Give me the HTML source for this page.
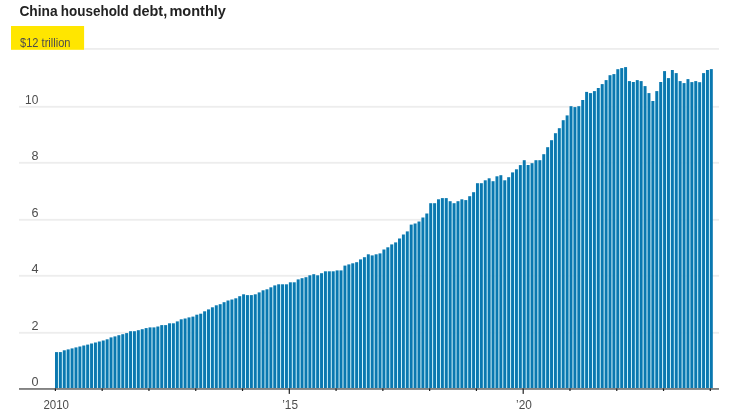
<!DOCTYPE html>
<html><head><meta charset="utf-8"><title>China household debt, monthly</title>
<style>
html,body{margin:0;padding:0;background:#fff;}
body{width:731px;height:409px;overflow:hidden;}
svg{display:block;font-family:"Liberation Sans",sans-serif;}
.t{font-weight:bold;font-size:15px;fill:#222;}
.l text{font-size:12.6px;fill:#4d4d4d;}
</style></head><body>
<svg width="731" height="409" viewBox="0 0 731 409">
<rect width="731" height="409" fill="#fff"/>
<text class="t" y="15.9"><tspan x="19.4" textLength="38.2" lengthAdjust="spacingAndGlyphs">China</tspan> <tspan x="60.8" textLength="68" lengthAdjust="spacingAndGlyphs">household</tspan> <tspan x="132.7" textLength="34.5" lengthAdjust="spacingAndGlyphs">debt,</tspan> <tspan x="169.4" textLength="56.5" lengthAdjust="spacingAndGlyphs">monthly</tspan></text>
<rect x="11" y="26" width="73.1" height="23.8" fill="#ffe600"/>
<g><rect x="84" y="48.0" width="635" height="1.8" fill="#ededed"/><rect x="19" y="105.9" width="700" height="1.8" fill="#ededed"/><rect x="19" y="161.9" width="700" height="1.8" fill="#ededed"/><rect x="19" y="218.9" width="700" height="1.8" fill="#ededed"/><rect x="19" y="274.9" width="700" height="1.8" fill="#ededed"/><rect x="19" y="331.9" width="700" height="1.8" fill="#ededed"/></g>
<g class="l">
<text x="20" y="46.6" textLength="50.5" lengthAdjust="spacingAndGlyphs">$12 trillion</text>
<text x="38.4" y="103.85" text-anchor="end" textLength="13.3" lengthAdjust="spacingAndGlyphs">10</text><text x="38.4" y="159.85" text-anchor="end">8</text><text x="38.4" y="216.85" text-anchor="end">6</text><text x="38.4" y="272.85" text-anchor="end">4</text><text x="38.4" y="329.85" text-anchor="end">2</text><text x="38.4" y="385.85" text-anchor="end">0</text>
<text x="56.2" y="409" text-anchor="middle" textLength="25.6" lengthAdjust="spacingAndGlyphs">2010</text><text x="290.1" y="409" text-anchor="middle" textLength="15.8" lengthAdjust="spacingAndGlyphs">’15</text><text x="524.0" y="409" text-anchor="middle" textLength="15.8" lengthAdjust="spacingAndGlyphs">’20</text>
</g>
<g fill="#dcfbff"><rect x="57.65" y="352.1" width="1.55" height="35.9"/><rect x="61.55" y="352.1" width="1.55" height="35.9"/><rect x="65.45" y="350.3" width="1.55" height="37.7"/><rect x="69.34" y="349.4" width="1.55" height="38.6"/><rect x="73.24" y="348.4" width="1.55" height="39.6"/><rect x="77.14" y="347.4" width="1.55" height="40.6"/><rect x="81.04" y="346.5" width="1.55" height="41.5"/><rect x="84.94" y="345.5" width="1.55" height="42.5"/><rect x="88.83" y="344.6" width="1.55" height="43.4"/><rect x="92.73" y="343.5" width="1.55" height="44.5"/><rect x="96.63" y="342.5" width="1.55" height="45.5"/><rect x="100.53" y="341.5" width="1.55" height="46.5"/><rect x="104.43" y="340.5" width="1.55" height="47.5"/><rect x="108.32" y="339.3" width="1.55" height="48.7"/><rect x="112.22" y="337.4" width="1.55" height="50.6"/><rect x="116.12" y="336.4" width="1.55" height="51.6"/><rect x="120.02" y="335.2" width="1.55" height="52.8"/><rect x="123.92" y="334.2" width="1.55" height="53.8"/><rect x="127.81" y="333.1" width="1.55" height="54.9"/><rect x="131.71" y="331.2" width="1.55" height="56.8"/><rect x="135.61" y="331.2" width="1.55" height="56.8"/><rect x="139.51" y="330.2" width="1.55" height="57.8"/><rect x="143.41" y="329.2" width="1.55" height="58.8"/><rect x="147.30" y="328.1" width="1.55" height="59.9"/><rect x="151.20" y="327.4" width="1.55" height="60.6"/><rect x="155.10" y="327.4" width="1.55" height="60.6"/><rect x="159.00" y="326.5" width="1.55" height="61.5"/><rect x="162.90" y="325.1" width="1.55" height="62.9"/><rect x="166.79" y="325.1" width="1.55" height="62.9"/><rect x="170.69" y="323.3" width="1.55" height="64.7"/><rect x="174.59" y="323.3" width="1.55" height="64.7"/><rect x="178.49" y="321.4" width="1.55" height="66.6"/><rect x="182.39" y="319.3" width="1.55" height="68.7"/><rect x="186.28" y="318.5" width="1.55" height="69.5"/><rect x="190.18" y="317.4" width="1.55" height="70.6"/><rect x="194.08" y="316.6" width="1.55" height="71.4"/><rect x="197.98" y="314.7" width="1.55" height="73.3"/><rect x="201.88" y="313.7" width="1.55" height="74.3"/><rect x="205.77" y="311.3" width="1.55" height="76.7"/><rect x="209.67" y="309.4" width="1.55" height="78.6"/><rect x="213.57" y="307.3" width="1.55" height="80.7"/><rect x="217.47" y="305.3" width="1.55" height="82.7"/><rect x="221.37" y="304.2" width="1.55" height="83.8"/><rect x="225.26" y="302.2" width="1.55" height="85.8"/><rect x="229.16" y="300.5" width="1.55" height="87.5"/><rect x="233.06" y="299.5" width="1.55" height="88.5"/><rect x="236.96" y="298.3" width="1.55" height="89.7"/><rect x="240.86" y="296.2" width="1.55" height="91.8"/><rect x="244.75" y="295.1" width="1.55" height="92.9"/><rect x="248.65" y="295.1" width="1.55" height="92.9"/><rect x="252.55" y="295.1" width="1.55" height="92.9"/><rect x="256.45" y="294.3" width="1.55" height="93.7"/><rect x="260.35" y="292.4" width="1.55" height="95.6"/><rect x="264.24" y="290.3" width="1.55" height="97.7"/><rect x="268.14" y="289.3" width="1.55" height="98.7"/><rect x="272.04" y="287.3" width="1.55" height="100.7"/><rect x="275.94" y="285.4" width="1.55" height="102.6"/><rect x="279.84" y="284.3" width="1.55" height="103.7"/><rect x="283.73" y="284.3" width="1.55" height="103.7"/><rect x="287.63" y="284.3" width="1.55" height="103.7"/><rect x="291.53" y="282.3" width="1.55" height="105.7"/><rect x="295.43" y="282.3" width="1.55" height="105.7"/><rect x="299.33" y="279.4" width="1.55" height="108.6"/><rect x="303.22" y="278.2" width="1.55" height="109.8"/><rect x="307.12" y="277.2" width="1.55" height="110.8"/><rect x="311.02" y="275.3" width="1.55" height="112.7"/><rect x="314.92" y="275.3" width="1.55" height="112.7"/><rect x="318.82" y="275.3" width="1.55" height="112.7"/><rect x="322.71" y="273.2" width="1.55" height="114.8"/><rect x="326.61" y="271.3" width="1.55" height="116.7"/><rect x="330.51" y="271.3" width="1.55" height="116.7"/><rect x="334.41" y="271.3" width="1.55" height="116.7"/><rect x="338.31" y="270.4" width="1.55" height="117.6"/><rect x="342.20" y="270.4" width="1.55" height="117.6"/><rect x="346.10" y="265.6" width="1.55" height="122.4"/><rect x="350.00" y="264.4" width="1.55" height="123.6"/><rect x="353.90" y="263.3" width="1.55" height="124.7"/><rect x="357.80" y="262.2" width="1.55" height="125.8"/><rect x="361.69" y="259.4" width="1.55" height="128.6"/><rect x="365.59" y="257.2" width="1.55" height="130.8"/><rect x="369.49" y="255.4" width="1.55" height="132.6"/><rect x="373.39" y="255.4" width="1.55" height="132.6"/><rect x="377.29" y="254.3" width="1.55" height="133.7"/><rect x="381.18" y="253.4" width="1.55" height="134.6"/><rect x="385.08" y="249.5" width="1.55" height="138.5"/><rect x="388.98" y="247.3" width="1.55" height="140.7"/><rect x="392.88" y="244.4" width="1.55" height="143.6"/><rect x="396.78" y="242.4" width="1.55" height="145.6"/><rect x="400.67" y="238.5" width="1.55" height="149.5"/><rect x="404.57" y="234.5" width="1.55" height="153.5"/><rect x="408.47" y="231.4" width="1.55" height="156.6"/><rect x="412.37" y="224.6" width="1.55" height="163.4"/><rect x="416.27" y="223.5" width="1.55" height="164.5"/><rect x="420.16" y="221.5" width="1.55" height="166.5"/><rect x="424.06" y="217.5" width="1.55" height="170.5"/><rect x="427.96" y="213.5" width="1.55" height="174.5"/><rect x="431.86" y="203.2" width="1.55" height="184.8"/><rect x="435.76" y="203.2" width="1.55" height="184.8"/><rect x="439.65" y="199.3" width="1.55" height="188.7"/><rect x="443.55" y="198.1" width="1.55" height="189.9"/><rect x="447.45" y="201.2" width="1.55" height="186.8"/><rect x="451.35" y="203.2" width="1.55" height="184.8"/><rect x="455.25" y="203.2" width="1.55" height="184.8"/><rect x="459.14" y="201.2" width="1.55" height="186.8"/><rect x="463.04" y="200.1" width="1.55" height="187.9"/><rect x="466.94" y="200.1" width="1.55" height="187.9"/><rect x="470.84" y="196.2" width="1.55" height="191.8"/><rect x="474.74" y="192.2" width="1.55" height="195.8"/><rect x="478.63" y="183.2" width="1.55" height="204.8"/><rect x="482.53" y="183.2" width="1.55" height="204.8"/><rect x="486.43" y="180.3" width="1.55" height="207.7"/><rect x="490.33" y="181.2" width="1.55" height="206.8"/><rect x="494.23" y="181.2" width="1.55" height="206.8"/><rect x="498.12" y="176.3" width="1.55" height="211.7"/><rect x="502.02" y="180.3" width="1.55" height="207.7"/><rect x="505.92" y="180.3" width="1.55" height="207.7"/><rect x="509.82" y="177.2" width="1.55" height="210.8"/><rect x="513.72" y="172.4" width="1.55" height="215.6"/><rect x="517.61" y="169.3" width="1.55" height="218.7"/><rect x="521.51" y="165.1" width="1.55" height="222.9"/><rect x="525.41" y="165.0" width="1.55" height="223.0"/><rect x="529.31" y="165.0" width="1.55" height="223.0"/><rect x="533.21" y="163.2" width="1.55" height="224.8"/><rect x="537.10" y="160.2" width="1.55" height="227.8"/><rect x="541.00" y="160.2" width="1.55" height="227.8"/><rect x="544.90" y="154.2" width="1.55" height="233.8"/><rect x="548.80" y="147.2" width="1.55" height="240.8"/><rect x="552.70" y="140.2" width="1.55" height="247.8"/><rect x="556.59" y="133.2" width="1.55" height="254.8"/><rect x="560.49" y="128.2" width="1.55" height="259.8"/><rect x="564.39" y="120.2" width="1.55" height="267.8"/><rect x="568.29" y="115.4" width="1.55" height="272.6"/><rect x="572.19" y="107.1" width="1.55" height="280.9"/><rect x="576.08" y="107.1" width="1.55" height="280.9"/><rect x="579.98" y="106.2" width="1.55" height="281.8"/><rect x="583.88" y="100.0" width="1.55" height="288.0"/><rect x="587.78" y="93.1" width="1.55" height="294.9"/><rect x="591.68" y="93.1" width="1.55" height="294.9"/><rect x="595.57" y="91.1" width="1.55" height="296.9"/><rect x="599.47" y="88.0" width="1.55" height="300.0"/><rect x="603.37" y="84.1" width="1.55" height="303.9"/><rect x="607.27" y="80.1" width="1.55" height="307.9"/><rect x="611.17" y="75.2" width="1.55" height="312.8"/><rect x="615.06" y="74.1" width="1.55" height="313.9"/><rect x="618.96" y="69.2" width="1.55" height="318.8"/><rect x="622.86" y="68.1" width="1.55" height="319.9"/><rect x="626.76" y="81.1" width="1.55" height="306.9"/><rect x="630.66" y="82.0" width="1.55" height="306.0"/><rect x="634.55" y="82.0" width="1.55" height="306.0"/><rect x="638.45" y="81.1" width="1.55" height="306.9"/><rect x="642.35" y="86.1" width="1.55" height="301.9"/><rect x="646.25" y="93.1" width="1.55" height="294.9"/><rect x="650.15" y="101.0" width="1.55" height="287.0"/><rect x="654.04" y="101.0" width="1.55" height="287.0"/><rect x="657.94" y="91.1" width="1.55" height="296.9"/><rect x="661.84" y="82.0" width="1.55" height="306.0"/><rect x="665.74" y="78.1" width="1.55" height="309.9"/><rect x="669.64" y="78.1" width="1.55" height="309.9"/><rect x="673.53" y="73.1" width="1.55" height="314.9"/><rect x="677.43" y="81.1" width="1.55" height="306.9"/><rect x="681.33" y="83.1" width="1.55" height="304.9"/><rect x="685.23" y="83.1" width="1.55" height="304.9"/><rect x="689.13" y="82.1" width="1.55" height="305.9"/><rect x="693.02" y="82.1" width="1.55" height="305.9"/><rect x="696.92" y="82.2" width="1.55" height="305.8"/><rect x="700.82" y="82.2" width="1.55" height="305.8"/><rect x="704.72" y="73.1" width="1.55" height="314.9"/><rect x="708.62" y="70.0" width="1.55" height="318.0"/></g>
<g fill="#0a78b0"><rect x="55.00" y="352.1" width="2.95" height="35.9"/><rect x="58.90" y="352.1" width="2.95" height="35.9"/><rect x="62.80" y="350.3" width="2.95" height="37.7"/><rect x="66.69" y="349.4" width="2.95" height="38.6"/><rect x="70.59" y="348.4" width="2.95" height="39.6"/><rect x="74.49" y="347.4" width="2.95" height="40.6"/><rect x="78.39" y="346.5" width="2.95" height="41.5"/><rect x="82.29" y="345.5" width="2.95" height="42.5"/><rect x="86.18" y="344.6" width="2.95" height="43.4"/><rect x="90.08" y="343.5" width="2.95" height="44.5"/><rect x="93.98" y="342.5" width="2.95" height="45.5"/><rect x="97.88" y="341.5" width="2.95" height="46.5"/><rect x="101.78" y="340.5" width="2.95" height="47.5"/><rect x="105.67" y="339.3" width="2.95" height="48.7"/><rect x="109.57" y="337.4" width="2.95" height="50.6"/><rect x="113.47" y="336.4" width="2.95" height="51.6"/><rect x="117.37" y="335.2" width="2.95" height="52.8"/><rect x="121.27" y="334.2" width="2.95" height="53.8"/><rect x="125.16" y="333.1" width="2.95" height="54.9"/><rect x="129.06" y="331.2" width="2.95" height="56.8"/><rect x="132.96" y="331.2" width="2.95" height="56.8"/><rect x="136.86" y="330.2" width="2.95" height="57.8"/><rect x="140.76" y="329.2" width="2.95" height="58.8"/><rect x="144.65" y="328.1" width="2.95" height="59.9"/><rect x="148.55" y="327.4" width="2.95" height="60.6"/><rect x="152.45" y="327.4" width="2.95" height="60.6"/><rect x="156.35" y="326.5" width="2.95" height="61.5"/><rect x="160.25" y="325.1" width="2.95" height="62.9"/><rect x="164.14" y="325.1" width="2.95" height="62.9"/><rect x="168.04" y="323.3" width="2.95" height="64.7"/><rect x="171.94" y="323.3" width="2.95" height="64.7"/><rect x="175.84" y="321.4" width="2.95" height="66.6"/><rect x="179.74" y="319.3" width="2.95" height="68.7"/><rect x="183.63" y="318.5" width="2.95" height="69.5"/><rect x="187.53" y="317.4" width="2.95" height="70.6"/><rect x="191.43" y="316.6" width="2.95" height="71.4"/><rect x="195.33" y="314.7" width="2.95" height="73.3"/><rect x="199.23" y="313.7" width="2.95" height="74.3"/><rect x="203.12" y="311.3" width="2.95" height="76.7"/><rect x="207.02" y="309.4" width="2.95" height="78.6"/><rect x="210.92" y="307.3" width="2.95" height="80.7"/><rect x="214.82" y="305.3" width="2.95" height="82.7"/><rect x="218.72" y="304.2" width="2.95" height="83.8"/><rect x="222.61" y="302.2" width="2.95" height="85.8"/><rect x="226.51" y="300.5" width="2.95" height="87.5"/><rect x="230.41" y="299.5" width="2.95" height="88.5"/><rect x="234.31" y="298.3" width="2.95" height="89.7"/><rect x="238.21" y="296.2" width="2.95" height="91.8"/><rect x="242.10" y="294.3" width="2.95" height="93.7"/><rect x="246.00" y="295.1" width="2.95" height="92.9"/><rect x="249.90" y="295.1" width="2.95" height="92.9"/><rect x="253.80" y="294.3" width="2.95" height="93.7"/><rect x="257.70" y="292.4" width="2.95" height="95.6"/><rect x="261.59" y="290.3" width="2.95" height="97.7"/><rect x="265.49" y="289.3" width="2.95" height="98.7"/><rect x="269.39" y="287.3" width="2.95" height="100.7"/><rect x="273.29" y="285.4" width="2.95" height="102.6"/><rect x="277.19" y="284.3" width="2.95" height="103.7"/><rect x="281.08" y="284.3" width="2.95" height="103.7"/><rect x="284.98" y="284.3" width="2.95" height="103.7"/><rect x="288.88" y="282.3" width="2.95" height="105.7"/><rect x="292.78" y="282.3" width="2.95" height="105.7"/><rect x="296.68" y="279.4" width="2.95" height="108.6"/><rect x="300.57" y="278.2" width="2.95" height="109.8"/><rect x="304.47" y="277.2" width="2.95" height="110.8"/><rect x="308.37" y="275.3" width="2.95" height="112.7"/><rect x="312.27" y="274.2" width="2.95" height="113.8"/><rect x="316.17" y="275.3" width="2.95" height="112.7"/><rect x="320.06" y="273.2" width="2.95" height="114.8"/><rect x="323.96" y="271.3" width="2.95" height="116.7"/><rect x="327.86" y="271.3" width="2.95" height="116.7"/><rect x="331.76" y="271.3" width="2.95" height="116.7"/><rect x="335.66" y="270.4" width="2.95" height="117.6"/><rect x="339.55" y="270.4" width="2.95" height="117.6"/><rect x="343.45" y="265.6" width="2.95" height="122.4"/><rect x="347.35" y="264.4" width="2.95" height="123.6"/><rect x="351.25" y="263.3" width="2.95" height="124.7"/><rect x="355.15" y="262.2" width="2.95" height="125.8"/><rect x="359.04" y="259.4" width="2.95" height="128.6"/><rect x="362.94" y="257.2" width="2.95" height="130.8"/><rect x="366.84" y="254.3" width="2.95" height="133.7"/><rect x="370.74" y="255.4" width="2.95" height="132.6"/><rect x="374.64" y="254.3" width="2.95" height="133.7"/><rect x="378.53" y="253.4" width="2.95" height="134.6"/><rect x="382.43" y="249.5" width="2.95" height="138.5"/><rect x="386.33" y="247.3" width="2.95" height="140.7"/><rect x="390.23" y="244.4" width="2.95" height="143.6"/><rect x="394.13" y="242.4" width="2.95" height="145.6"/><rect x="398.02" y="238.5" width="2.95" height="149.5"/><rect x="401.92" y="234.5" width="2.95" height="153.5"/><rect x="405.82" y="231.4" width="2.95" height="156.6"/><rect x="409.72" y="224.6" width="2.95" height="163.4"/><rect x="413.62" y="223.5" width="2.95" height="164.5"/><rect x="417.51" y="221.5" width="2.95" height="166.5"/><rect x="421.41" y="217.5" width="2.95" height="170.5"/><rect x="425.31" y="213.5" width="2.95" height="174.5"/><rect x="429.21" y="203.2" width="2.95" height="184.8"/><rect x="433.11" y="203.2" width="2.95" height="184.8"/><rect x="437.00" y="199.3" width="2.95" height="188.7"/><rect x="440.90" y="198.1" width="2.95" height="189.9"/><rect x="444.80" y="198.1" width="2.95" height="189.9"/><rect x="448.70" y="201.2" width="2.95" height="186.8"/><rect x="452.60" y="203.2" width="2.95" height="184.8"/><rect x="456.49" y="201.2" width="2.95" height="186.8"/><rect x="460.39" y="199.3" width="2.95" height="188.7"/><rect x="464.29" y="200.1" width="2.95" height="187.9"/><rect x="468.19" y="196.2" width="2.95" height="191.8"/><rect x="472.09" y="192.2" width="2.95" height="195.8"/><rect x="475.98" y="183.2" width="2.95" height="204.8"/><rect x="479.88" y="183.2" width="2.95" height="204.8"/><rect x="483.78" y="180.3" width="2.95" height="207.7"/><rect x="487.68" y="178.3" width="2.95" height="209.7"/><rect x="491.58" y="181.2" width="2.95" height="206.8"/><rect x="495.47" y="176.3" width="2.95" height="211.7"/><rect x="499.37" y="175.2" width="2.95" height="212.8"/><rect x="503.27" y="180.3" width="2.95" height="207.7"/><rect x="507.17" y="177.2" width="2.95" height="210.8"/><rect x="511.07" y="172.4" width="2.95" height="215.6"/><rect x="514.96" y="169.3" width="2.95" height="218.7"/><rect x="518.86" y="165.1" width="2.95" height="222.9"/><rect x="522.76" y="160.2" width="2.95" height="227.8"/><rect x="526.66" y="165.0" width="2.95" height="223.0"/><rect x="530.56" y="163.2" width="2.95" height="224.8"/><rect x="534.45" y="160.2" width="2.95" height="227.8"/><rect x="538.35" y="160.2" width="2.95" height="227.8"/><rect x="542.25" y="154.2" width="2.95" height="233.8"/><rect x="546.15" y="147.2" width="2.95" height="240.8"/><rect x="550.05" y="140.2" width="2.95" height="247.8"/><rect x="553.94" y="133.2" width="2.95" height="254.8"/><rect x="557.84" y="128.2" width="2.95" height="259.8"/><rect x="561.74" y="120.2" width="2.95" height="267.8"/><rect x="565.64" y="115.4" width="2.95" height="272.6"/><rect x="569.54" y="106.2" width="2.95" height="281.8"/><rect x="573.43" y="107.1" width="2.95" height="280.9"/><rect x="577.33" y="106.2" width="2.95" height="281.8"/><rect x="581.23" y="100.0" width="2.95" height="288.0"/><rect x="585.13" y="91.9" width="2.95" height="296.1"/><rect x="589.03" y="93.1" width="2.95" height="294.9"/><rect x="592.92" y="91.1" width="2.95" height="296.9"/><rect x="596.82" y="88.0" width="2.95" height="300.0"/><rect x="600.72" y="84.1" width="2.95" height="303.9"/><rect x="604.62" y="80.1" width="2.95" height="307.9"/><rect x="608.52" y="75.2" width="2.95" height="312.8"/><rect x="612.41" y="74.1" width="2.95" height="313.9"/><rect x="616.31" y="69.2" width="2.95" height="318.8"/><rect x="620.21" y="68.1" width="2.95" height="319.9"/><rect x="624.11" y="67.1" width="2.95" height="320.9"/><rect x="628.01" y="81.1" width="2.95" height="306.9"/><rect x="631.90" y="82.0" width="2.95" height="306.0"/><rect x="635.80" y="80.1" width="2.95" height="307.9"/><rect x="639.70" y="81.1" width="2.95" height="306.9"/><rect x="643.60" y="86.1" width="2.95" height="301.9"/><rect x="647.50" y="93.1" width="2.95" height="294.9"/><rect x="651.39" y="101.0" width="2.95" height="287.0"/><rect x="655.29" y="91.1" width="2.95" height="296.9"/><rect x="659.19" y="82.0" width="2.95" height="306.0"/><rect x="663.09" y="71.1" width="2.95" height="316.9"/><rect x="666.99" y="78.1" width="2.95" height="309.9"/><rect x="670.88" y="70.0" width="2.95" height="318.0"/><rect x="674.78" y="73.1" width="2.95" height="314.9"/><rect x="678.68" y="81.1" width="2.95" height="306.9"/><rect x="682.58" y="83.1" width="2.95" height="304.9"/><rect x="686.48" y="79.1" width="2.95" height="308.9"/><rect x="690.37" y="82.1" width="2.95" height="305.9"/><rect x="694.27" y="81.1" width="2.95" height="306.9"/><rect x="698.17" y="82.2" width="2.95" height="305.8"/><rect x="702.07" y="73.1" width="2.95" height="314.9"/><rect x="705.97" y="70.0" width="2.95" height="318.0"/><rect x="709.86" y="69.1" width="2.95" height="318.9"/></g>
<rect x="19" y="388" width="700" height="1.9" fill="#828282"/>
<g><rect x="54.80" y="388.4" width="1.2" height="2.6" fill="#222"/><rect x="101.58" y="388.4" width="1.2" height="2.6" fill="#222"/><rect x="148.36" y="388.4" width="1.2" height="2.6" fill="#222"/><rect x="195.14" y="388.4" width="1.2" height="2.6" fill="#222"/><rect x="241.92" y="388.4" width="1.2" height="2.6" fill="#222"/><rect x="288.70" y="388.4" width="1.2" height="5.5" fill="#222"/><rect x="335.48" y="388.4" width="1.2" height="2.6" fill="#222"/><rect x="382.26" y="388.4" width="1.2" height="2.6" fill="#222"/><rect x="429.04" y="388.4" width="1.2" height="2.6" fill="#222"/><rect x="475.82" y="388.4" width="1.2" height="2.6" fill="#222"/><rect x="522.60" y="388.4" width="1.2" height="5.5" fill="#222"/><rect x="569.38" y="388.4" width="1.2" height="2.6" fill="#222"/><rect x="616.16" y="388.4" width="1.2" height="2.6" fill="#222"/><rect x="662.94" y="388.4" width="1.2" height="2.6" fill="#222"/><rect x="709.72" y="388.4" width="1.2" height="2.6" fill="#222"/></g>
</svg>
</body></html>
